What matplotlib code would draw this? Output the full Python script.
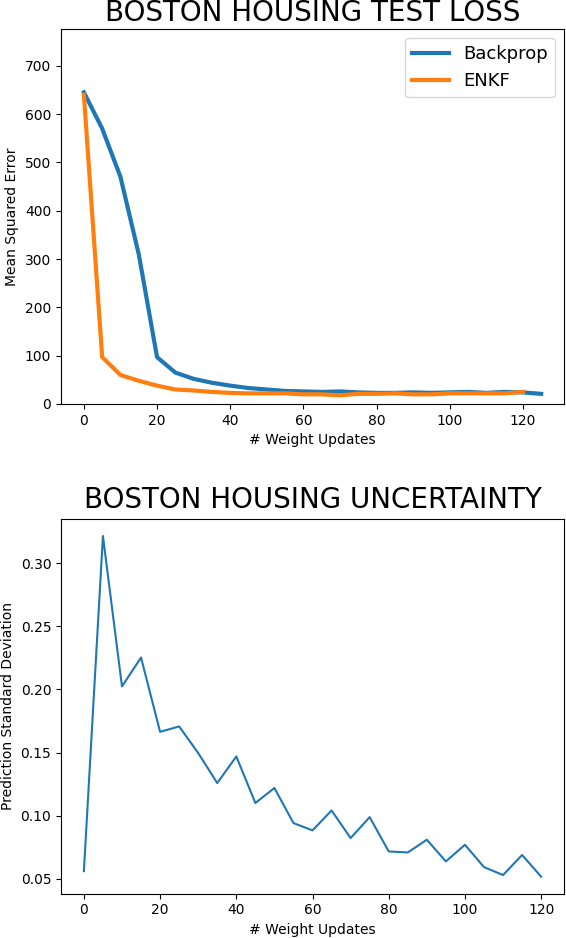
import matplotlib
matplotlib.use("Agg")
import matplotlib.pyplot as plt

# Top chart: test loss
updates_bp = [0, 5, 10, 15, 20, 25, 30, 35, 40, 45, 50, 55, 60, 65, 70, 75, 80, 85,
              90, 95, 100, 105, 110, 115, 120, 125]
loss_backprop = [645, 570, 470, 310, 97, 65, 52, 44, 38, 33, 30, 27, 26, 25, 26, 24,
                 23, 23, 24, 23, 24, 25, 23, 25, 24, 21]
updates_enkf = [0, 5, 10, 15, 20, 25, 30, 35, 40, 45, 50, 55, 60, 65, 70, 75, 80, 85,
                90, 95, 100, 105, 110, 115, 120]
loss_enkf = [640, 97, 60, 48, 38, 30, 28, 25, 23, 22, 22, 22, 20, 20, 18, 21, 21, 22,
             20, 20, 22, 22, 22, 22, 25]

# Bottom chart: uncertainty
updates_unc = [0, 5, 10, 15, 20, 25, 30, 35, 40, 45, 50, 55, 60, 65, 70, 75, 80, 85,
               90, 95, 100, 105, 110, 115, 120]
pred_std = [0.056, 0.3216, 0.2024, 0.2253, 0.1664, 0.1707, 0.1496, 0.1258, 0.1469,
            0.1100, 0.1219, 0.0941, 0.0883, 0.1041, 0.0822, 0.0988, 0.0716, 0.0708,
            0.0809, 0.0637, 0.0769, 0.0592, 0.0529, 0.0688, 0.0516]

fig = plt.figure(figsize=(5.66, 9.38), dpi=100)

ax1 = fig.add_axes([0.1078, 0.5693, 0.8887, 0.3998])
ax1.plot(updates_bp, loss_backprop, color="#1f77b4", linewidth=3, label="Backprop")
ax1.plot(updates_enkf, loss_enkf, color="#ff7f0e", linewidth=3, label="ENKF")
ax1.set_ylim(0, 776)
ax1.set_xticks([0, 20, 40, 60, 80, 100, 120])
ax1.set_yticks([0, 100, 200, 300, 400, 500, 600, 700])
ax1.set_xlabel("# Weight Updates")
ax1.set_ylabel("Mean Squared Error")
ax1.set_title("BOSTON HOUSING TEST LOSS", fontsize=20)
ax1.legend(loc="upper right", fontsize=13)

ax2 = fig.add_axes([0.1078, 0.0472, 0.8887, 0.3995])
ax2.plot(updates_unc, pred_std, color="#1f77b4", linewidth=1.5)
ax2.set_xticks([0, 20, 40, 60, 80, 100, 120])
ax2.set_xlabel("# Weight Updates")
ax2.set_ylabel("Prediction Standard Deviation")
ax2.set_title("BOSTON HOUSING UNCERTAINTY", fontsize=20, pad=8)

fig.savefig("out.png", dpi=100)
